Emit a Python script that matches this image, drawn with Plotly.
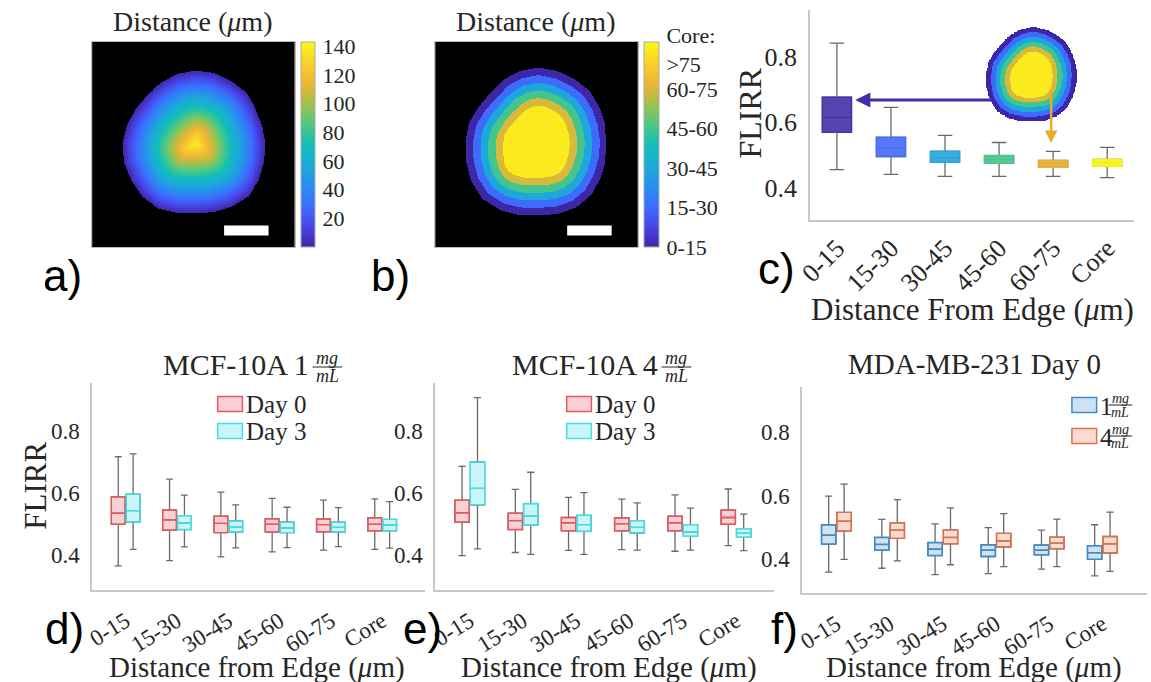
import numpy as np
import plotly.graph_objects as go

W, H = 1151, 682
SERIF = "Liberation Serif, Times New Roman, serif"
SANS = "Liberation Sans, Arial, sans-serif"
TXT = "#262626"

# ---------------- data ----------------
CATS = ["0-15", "15-30", "30-45", "45-60", "60-75", "Core"]

# panel c : FLIRR by distance band
C_LO = [0.455, 0.440, 0.434, 0.434, 0.434, 0.430]
C_Q1 = [0.569, 0.495, 0.477, 0.474, 0.462, 0.465]
C_MED = [0.615, 0.520, 0.490, 0.486, 0.474, 0.475]
C_Q3 = [0.677, 0.554, 0.511, 0.498, 0.483, 0.486]
C_HI = [0.843, 0.646, 0.560, 0.538, 0.511, 0.523]

# panel d : MCF-10A 1 mg/mL
D0_LO = [0.365, 0.382, 0.394, 0.410, 0.416, 0.418]
D0_Q1 = [0.499, 0.480, 0.472, 0.474, 0.475, 0.478]
D0_MED = [0.535, 0.513, 0.502, 0.499, 0.498, 0.499]
D0_Q3 = [0.588, 0.545, 0.525, 0.517, 0.516, 0.520]
D0_HI = [0.717, 0.645, 0.603, 0.583, 0.577, 0.581]
D3_LO = [0.418, 0.426, 0.423, 0.424, 0.427, 0.422]
D3_Q1 = [0.506, 0.482, 0.474, 0.472, 0.474, 0.478]
D3_MED = [0.543, 0.503, 0.491, 0.487, 0.489, 0.496]
D3_Q3 = [0.596, 0.527, 0.510, 0.506, 0.506, 0.515]
D3_HI = [0.726, 0.593, 0.562, 0.554, 0.553, 0.572]

# panel e : MCF-10A 4 mg/mL
E0_LO = [0.398, 0.408, 0.415, 0.417, 0.412, 0.430]
E0_Q1 = [0.506, 0.482, 0.478, 0.478, 0.478, 0.499]
E0_MED = [0.536, 0.511, 0.504, 0.501, 0.504, 0.521]
E0_Q3 = [0.577, 0.535, 0.521, 0.520, 0.525, 0.545]
E0_HI = [0.686, 0.612, 0.586, 0.580, 0.594, 0.613]
E3_LO = [0.420, 0.402, 0.402, 0.416, 0.416, 0.414]
E3_Q1 = [0.561, 0.496, 0.476, 0.471, 0.460, 0.457]
E3_MED = [0.615, 0.525, 0.498, 0.489, 0.474, 0.470]
E3_Q3 = [0.700, 0.566, 0.528, 0.511, 0.498, 0.485]
E3_HI = [0.908, 0.667, 0.601, 0.568, 0.551, 0.532]

# panel f : MDA-MB-231 Day 0
F1_LO = [0.359, 0.371, 0.351, 0.354, 0.368, 0.347]
F1_Q1 = [0.447, 0.428, 0.411, 0.408, 0.413, 0.399]
F1_MED = [0.475, 0.446, 0.431, 0.428, 0.428, 0.420]
F1_Q3 = [0.508, 0.468, 0.452, 0.445, 0.444, 0.442]
F1_HI = [0.598, 0.525, 0.511, 0.499, 0.491, 0.508]
F4_LO = [0.399, 0.394, 0.382, 0.376, 0.376, 0.361]
F4_Q1 = [0.488, 0.465, 0.448, 0.438, 0.432, 0.419]
F4_MED = [0.519, 0.491, 0.468, 0.457, 0.450, 0.448]
F4_Q3 = [0.547, 0.514, 0.492, 0.481, 0.469, 0.471]
F4_HI = [0.636, 0.587, 0.561, 0.543, 0.526, 0.548]

# spheroid outlines: edge radius (px) every 15 deg, counter-clockwise from +x
A_RADII = [71, 70, 70, 72, 72, 73, 73, 72, 70, 69, 70, 72,
           74, 75, 75, 76, 75, 72, 70, 71, 73, 75, 74, 72]
A_CENTER = (104, 101)
B_RADII = [69, 69, 70, 72, 72, 73, 74, 73, 71, 69, 70, 73,
           74, 76, 79, 81, 79, 76, 74, 75, 76, 75, 72, 70]
B_CENTER = (104, 99)
UM_PER_PX = 2.0
IMG_N = 205
BAND_UM = 15
CORE_UM = 75
SCALE_BAR_UM = 90

A_TICKS = [20, 40, 60, 80, 100, 120, 140]
B_TICKVALS = [0, 15, 30, 45, 60, 75]
B_TICKTEXT = ["0-15", "15-30", "30-45", "45-60", "60-75", "Core:<br>&gt;75"]

# ---------------- styles ----------------
PARULA = [[0.0, "rgb(62,38,168)"], [0.1, "rgb(71,70,232)"], [0.2, "rgb(60,110,253)"],
          [0.3, "rgb(38,145,237)"], [0.4, "rgb(26,172,215)"], [0.5, "rgb(18,190,183)"],
          [0.6, "rgb(80,200,130)"], [0.7, "rgb(165,192,75)"], [0.8, "rgb(238,182,50)"],
          [0.9, "rgb(252,208,45)"], [1.0, "rgb(249,251,20)"]]
C_COLORS = ["72,52,168", "72,110,246", "40,166,220", "76,196,138", "230,174,52", "246,244,24"]
WHISK = "#6a6a6a"
RED, CYAN = "232,86,96", "64,224,228"
BLUE, ORANGE = "58,140,205", "228,112,70"


def distance_map(radii, center):
    ang = np.deg2rad(np.arange(len(radii)) * 360.0 / len(radii))
    r = np.asarray(radii, float)
    ax_ = center[0] + r * np.cos(ang)
    ay_ = center[1] - r * np.sin(ang)
    bx_, by_ = np.roll(ax_, -1), np.roll(ay_, -1)
    yy, xx = np.mgrid[0:IMG_N, 0:IMG_N]
    px = xx.ravel()[:, None].astype(float)
    py = yy.ravel()[:, None].astype(float)
    dx, dy = bx_ - ax_, by_ - ay_
    t = np.clip(((px - ax_) * dx + (py - ay_) * dy) / (dx * dx + dy * dy), 0, 1)
    d = np.hypot(px - (ax_ + t * dx), py - (ay_ + t * dy)).min(axis=1)
    safe_dy = np.where(dy == 0, 1e-9, dy)
    cross = ((ay_ > py) != (by_ > py)) & (px < dx * (py - ay_) / safe_dy + ax_)
    inside = (cross.sum(axis=1) % 2) == 1
    return np.where(inside, d * UM_PER_PX, np.nan).reshape(IMG_N, IMG_N)


def to_list(z):
    return [[None if np.isnan(v) else round(float(v), 1) for v in row] for row in z]


dist_a = distance_map(A_RADII, A_CENTER)
dist_b = distance_map(B_RADII, B_CENTER)
band_b = np.minimum(np.floor(dist_b / BAND_UM) * BAND_UM, CORE_UM)
Z_A = to_list(dist_a)
Z_B = to_list(band_b)
PIX = list(range(IMG_N))


def px2x(x):
    return x / W


def px2y(y):
    return 1 - y / H


fig = go.Figure()

# ---------------- panel a / b heatmaps ----------------
cb_common = dict(xanchor="left", xpad=0, ypad=0, y=px2y(144.5), yanchor="middle", len=205 / H,
                 lenmode="fraction", outlinewidth=1, outlinecolor="#aaaaaa", ticks="outside",
                 ticklen=3, tickcolor="rgba(0,0,0,0)", tickfont=dict(family=SERIF, size=22, color=TXT))
fig.add_trace(go.Heatmap(
    z=Z_A, x=PIX, y=PIX, xaxis="x", yaxis="y", colorscale=PARULA, zmin=0, zmax=143,
    zsmooth=False, hoverinfo="skip",
    colorbar=dict(x=px2x(291), thickness=14, tickvals=A_TICKS, **cb_common)))
fig.add_trace(go.Heatmap(
    z=Z_B, x=PIX, y=PIX, xaxis="x2", yaxis="y2", colorscale=PARULA, zmin=0, zmax=78,
    zsmooth=False, hoverinfo="skip",
    colorbar=dict(x=px2x(638), thickness=15, tickvals=B_TICKVALS, ticktext=B_TICKTEXT, **cb_common)))


# ---------------- box helpers ----------------
def add_box(xa, ya, x, lo, q1, med, q3, hi, color, fill, group, lw=1.4):
    fig.add_trace(go.Box(
        x=x, lowerfence=lo, q1=q1, median=med, q3=q3, upperfence=hi, xaxis=xa, yaxis=ya,
        line=dict(color=WHISK, width=1.3), fillcolor="rgba(0,0,0,0)", whiskerwidth=0.5,
        offsetgroup=group, alignmentgroup=xa, showlegend=False, hoverinfo="skip", boxpoints=False))
    fig.add_trace(go.Box(
        x=x, lowerfence=q1, q1=q1, median=med, q3=q3, upperfence=q3, xaxis=xa, yaxis=ya,
        line=dict(color=color, width=lw), fillcolor=fill, whiskerwidth=0,
        offsetgroup=group, alignmentgroup=xa, showlegend=False, hoverinfo="skip", boxpoints=False))


# panel c
for i, cat in enumerate(CATS):
    add_box("x3", "y3", [cat], [C_LO[i]], [C_Q1[i]], [C_MED[i]], [C_Q3[i]], [C_HI[i]],
            "rgba(%s,1)" % C_COLORS[i], "rgba(%s,0.92)" % C_COLORS[i], "c")

add_box("x5", "y5", CATS, D0_LO, D0_Q1, D0_MED, D0_Q3, D0_HI, "rgb(%s)" % RED, "rgba(%s,0.28)" % RED, "a")
add_box("x5", "y5", CATS, D3_LO, D3_Q1, D3_MED, D3_Q3, D3_HI, "rgb(%s)" % CYAN, "rgba(%s,0.28)" % CYAN, "b")
add_box("x6", "y6", CATS, E0_LO, E0_Q1, E0_MED, E0_Q3, E0_HI, "rgb(%s)" % RED, "rgba(%s,0.28)" % RED, "a")
add_box("x6", "y6", CATS, E3_LO, E3_Q1, E3_MED, E3_Q3, E3_HI, "rgb(%s)" % CYAN, "rgba(%s,0.28)" % CYAN, "b")
add_box("x7", "y7", CATS, F1_LO, F1_Q1, F1_MED, F1_Q3, F1_HI, "rgb(%s)" % BLUE, "rgba(%s,0.25)" % BLUE, "a")
add_box("x7", "y7", CATS, F4_LO, F4_Q1, F4_MED, F4_Q3, F4_HI, "rgb(%s)" % ORANGE, "rgba(%s,0.25)" % ORANGE, "b")

# inset spheroid on panel c
fig.add_trace(go.Heatmap(z=Z_B, x=PIX, y=PIX, xaxis="x4", yaxis="y4", colorscale=PARULA,
                         zmin=0, zmax=78, zsmooth=False, showscale=False, hoverinfo="skip"))

# ---------------- axes ----------------
img_ax = dict(showgrid=False, zeroline=False, showticklabels=False, ticks="", showline=True,
              mirror=True, linecolor="#bbbbbb", linewidth=1)


def box_x(size, angle, standoff, **kw):
    return dict(type="category", showgrid=False, zeroline=False, showline=True, linecolor="#c8c8c8",
                linewidth=1.5, ticks="", tickangle=angle, ticklabelstandoff=standoff,
                tickfont=dict(family=SERIF, size=size, color=TXT),
                categoryorder="array", categoryarray=CATS, **kw)


def box_y(size, **kw):
    return dict(showgrid=False, zeroline=False, showline=True, linecolor="#c8c8c8", linewidth=1.5,
                ticks="", tickvals=[0.4, 0.6, 0.8], tickformat=".1f",
                tickfont=dict(family=SERIF, size=size, color=TXT), ticklabelstandoff=6, **kw)


fig.update_layout(
    width=W, height=H, margin=dict(l=0, r=0, t=0, b=0), autosize=False,
    paper_bgcolor="white", plot_bgcolor="rgba(0,0,0,0)", showlegend=False,
    boxmode="group", boxgap=0.42, boxgroupgap=0.07,
    xaxis=dict(domain=[px2x(80), px2x(285)], range=[-0.5, IMG_N - 0.5], anchor="y", **img_ax),
    yaxis=dict(domain=[px2y(247), px2y(42)], range=[IMG_N - 0.5, -0.5], anchor="x", **img_ax),
    xaxis2=dict(domain=[px2x(427), px2x(632)], range=[-0.5, IMG_N - 0.5], anchor="y2", **img_ax),
    yaxis2=dict(domain=[px2y(247), px2y(42)], range=[IMG_N - 0.5, -0.5], anchor="x2", **img_ax),
    xaxis3=box_x(26, -45, 1, domain=[px2x(806), px2x(1134)], range=[-0.5, 5.5], anchor="y3"),
    yaxis3=box_y(26, domain=[px2y(220), px2y(10)], range=[0.30, 0.945], anchor="x3"),
    xaxis4=dict(domain=[px2x(983), px2x(1078)], range=[28, 176], anchor="y4", visible=False),
    yaxis4=dict(domain=[px2y(122), px2y(25)], range=[174, 22], anchor="x4", visible=False),
    xaxis5=box_x(23, -32, 7, domain=[px2x(80), px2x(417)], range=[-0.655, 5.84], anchor="y5"),
    yaxis5=box_y(23, domain=[px2y(590), px2y(383)], range=[0.287, 0.955], anchor="x5"),
    xaxis6=box_x(23, -32, 7, domain=[px2x(427), px2x(770)], range=[-0.65, 5.72], anchor="y6"),
    yaxis6=box_y(23, domain=[px2y(590), px2y(383)], range=[0.287, 0.955], anchor="x6"),
    xaxis7=box_x(23, -32, 7, domain=[px2x(798), px2x(1147)], range=[-0.647, 5.84], anchor="y7"),
    yaxis7=box_y(23, domain=[px2y(593), px2y(387)], range=[0.293, 0.942], anchor="x7"),
)

# image backgrounds and scale bars
bar_px = SCALE_BAR_UM / UM_PER_PX
for xr, yr in (("x", "y"), ("x2", "y2")):
    fig.add_shape(type="rect", xref=xr, yref=yr, x0=-0.5, x1=IMG_N - 0.5, y0=-0.5, y1=IMG_N - 0.5,
                  fillcolor="black", line_width=0, layer="below")
    fig.add_shape(type="rect", xref=xr, yref=yr, x0=178 - bar_px, x1=178, y0=183, y1=193,
                  fillcolor="white", line_width=0, layer="above")


# ---------------- text ----------------
def ann(x, y, text, size, family=SERIF, xanchor="center", yanchor="middle", angle=0, color=TXT):
    fig.add_annotation(x=px2x(x), y=px2y(y), xref="paper", yref="paper", text=text, showarrow=False,
                       font=dict(family=family, size=size, color=color), xanchor=xanchor,
                       yanchor=yanchor, textangle=angle, borderpad=0)


def frac(xc, ybar, num, den, size=18, width=30, gap=9):
    ann(xc, ybar - gap, "<i>%s</i>" % num, size)
    ann(xc, ybar + gap, "<i>%s</i>" % den, size)
    fig.add_shape(type="line", xref="paper", yref="paper", x0=px2x(xc - width / 2),
                  x1=px2x(xc + width / 2), y0=px2y(ybar), y1=px2y(ybar), line=dict(color=TXT, width=1))


def legend_item(x, y, rgb, label, alpha):
    fig.add_shape(type="rect", xref="paper", yref="paper", x0=px2x(x), x1=px2x(x + 25),
                  y0=px2y(y + 7.5), y1=px2y(y - 7.5), line=dict(color="rgb(%s)" % rgb, width=1.5),
                  fillcolor="rgba(%s,%s)" % (rgb, alpha))
    if label:
        ann(x + 28, y, label, 25, xanchor="left")


ann(182, 22, "Distance (<i>μ</i>m)", 28)
ann(528, 22, "Distance (<i>μ</i>m)", 28)
ann(745, 113, "FLIRR", 32, angle=-90)
ann(970, 309, "Distance From Edge (<i>μ</i>m)", 31)
ann(22, 486, "FLIRR", 31, angle=-90)
for xc in (247, 603, 972):
    ann(xc, 667, "Distance from Edge (<i>μ</i>m)", 29)

ann(300, 364, "MCF-10A 1", 30, xanchor="right")
frac(318, 367, "mg", "mL")
ann(653, 364, "MCF-10A 4", 30, xanchor="right")
frac(671, 367, "mg", "mL")
ann(972, 364, "MDA-MB-231 Day 0", 29)

# legends
legend_item(207, 404, RED, "Day 0", 0.28)
legend_item(207, 431, CYAN, "Day 3", 0.28)
legend_item(560, 404, RED, "Day 0", 0.28)
legend_item(560, 431, CYAN, "Day 3", 0.28)
legend_item(1071, 405, BLUE, None, 0.25)
legend_item(1071, 436, ORANGE, None, 0.25)
ann(1098, 406, "1", 25, xanchor="left")
frac(1120, 405, "mg", "mL", size=14, width=24, gap=7)
ann(1098, 437, "4", 25, xanchor="left")
frac(1120, 436, "mg", "mL", size=14, width=24, gap=7)

for lab, x, y in (("a)", 50, 275), ("b)", 382, 275), ("c)", 772, 268),
                  ("d)", 52, 628), ("e)", 414, 628), ("f)", 780, 628)):
    ann(x, y, lab, 44, family=SANS, color="black")

# arrows on panel c
fig.add_annotation(x=px2x(852), y=px2y(100), xref="paper", yref="paper", text="", showarrow=True,
                   ax=138, ay=0, arrowhead=2, arrowsize=1, arrowwidth=3, arrowcolor="rgb(64,48,168)")
fig.add_annotation(x=px2x(1050), y=px2y(143), xref="paper", yref="paper", text="", showarrow=True,
                   ax=0, ay=-55, arrowhead=2, arrowsize=1, arrowwidth=2.5, arrowcolor="rgb(236,170,40)")

fig.write_html("out.html", config={"displayModeBar": False})
